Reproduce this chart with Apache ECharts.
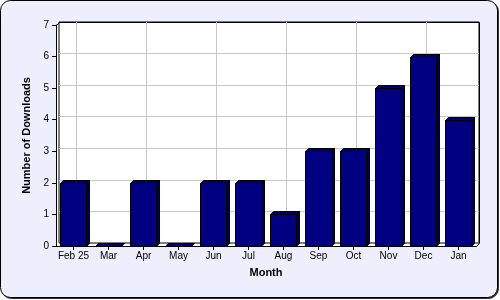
<!DOCTYPE html>
<html><head><meta charset="utf-8">
<script src="https://cdn.jsdelivr.net/npm/echarts@6/dist/echarts.min.js"></script>
<style>html,body{margin:0;padding:0;background:#fff}#c{width:500px;height:300px}</style>
</head><body><div id="c"></div>
<script>
const categories = ['Feb 25','Mar','Apr','May','Jun','Jul','Aug','Sep','Oct','Nov','Dec','Jan'];
const downloads = [2,0,2,0,2,2,1,3,3,5,6,4];
const yTicks = [0,1,2,3,4,5,6,7];

const FONT = '"Liberation Sans", Arial, sans-serif';
const DEPTH = 3;
// front grid layout
const FL = 56, FT = 25, FR = 24, FB = 54;
const W = 500, H = 300;

const chart = echarts.init(document.getElementById('c'), null, {renderer: 'canvas'});

function renderBar(params, api) {
  const cat = api.value(0), val = api.value(1);
  const top = api.coord([cat, val]);
  const base = api.coord([cat, 0]);
  const band = api.size([1, 0])[0];
  const bw = Math.round(band * 0.745);
  const x0 = Math.round(top[0] - bw / 2 - 0.5) + 0.5;
  const x1 = x0 + bw;
  const yt = Math.round(top[1]) + 0.5;
  const yb = Math.round(base[1]) + 0.5;
  const d = DEPTH;
  const stroke = {stroke: '#000', lineWidth: 1};
  return {
    type: 'group',
    children: [
      {type: 'polygon', shape: {points: [[x1, yt], [x1 + d, yt - d], [x1 + d, yb - d], [x1, yb]]},
        style: Object.assign({fill: '#000050'}, stroke)},
      {type: 'polygon', shape: {points: [[x0, yt], [x0 + d, yt - d], [x1 + d, yt - d], [x1, yt]]},
        style: Object.assign({fill: '#000070'}, stroke)},
      {type: 'rect', shape: {x: x0, y: yt, width: bw, height: yb - yt},
        style: Object.assign({fill: '#000080'}, stroke)}
    ]
  };
}

const fx0 = FL + 0.5, fx1 = W - FR + 0.5, fy0 = FT + 0.5, fy1 = H - FB + 0.5;

chart.setOption({
  animation: false,
  backgroundColor: '#ffffff',
  graphic: [
    {type: 'rect', z: -20, silent: true, shape: {x: 1.5, y: 1.5, width: 497, height: 297, r: 10},
      style: {fill: '#333', stroke: '#333', lineWidth: 1}},
    {type: 'rect', z: -19, silent: true, shape: {x: 0.5, y: 0.5, width: 497, height: 297, r: 10},
      style: {fill: '#eeeefd', stroke: '#000', lineWidth: 1}},
    {type: 'polygon', z: -18, silent: true,
      shape: {points: [[fx0, fy1], [fx0, fy0], [fx0 + DEPTH, fy0 - DEPTH], [fx1 + DEPTH, fy0 - DEPTH], [fx1 + DEPTH, fy1 - DEPTH], [fx1, fy1]]},
      style: {fill: '#fff', stroke: '#000', lineWidth: 1}}
  ],
  grid: [
    {left: FL + DEPTH, top: FT - DEPTH, right: FR - DEPTH, bottom: FB + DEPTH, show: true,
      borderColor: '#000', borderWidth: 1, backgroundColor: 'transparent'},
    {left: FL, top: FT, right: FR, bottom: FB}
  ],
  xAxis: [
    {type: 'category', gridIndex: 0, data: categories, boundaryGap: true,
      axisLine: {show: false}, axisTick: {show: false}, axisLabel: {show: false},
      splitLine: {show: true, alignWithLabel: true, lineStyle: {color: '#c8c8c8', width: 1}}},
    {type: 'category', gridIndex: 1, data: categories, boundaryGap: true,
      name: 'Month', nameLocation: 'middle', nameGap: 21,
      nameTextStyle: {fontFamily: FONT, fontSize: 11, fontWeight: 'bold', color: '#000'},
      axisLine: {show: true, lineStyle: {color: '#000', width: 1}},
      axisTick: {show: true, alignWithLabel: true, length: 4, lineStyle: {color: '#000'}},
      axisLabel: {fontFamily: FONT, fontSize: 10, color: '#000', margin: 5, interval: 0},
      splitLine: {show: false}}
  ],
  yAxis: [
    {type: 'value', gridIndex: 0, min: 0, max: 7, interval: 1,
      axisLine: {show: false}, axisTick: {show: false}, axisLabel: {show: false},
      splitLine: {show: true, showMinLine: false, showMaxLine: false, lineStyle: {color: '#c8c8c8', width: 1}}},
    {type: 'value', gridIndex: 1, min: yTicks[0], max: yTicks[yTicks.length - 1], interval: 1,
      name: 'Number of Downloads', nameLocation: 'middle', nameGap: 14,
      nameTextStyle: {fontFamily: FONT, fontSize: 11, fontWeight: 'bold', color: '#000'},
      axisLine: {show: true, lineStyle: {color: '#000', width: 1}},
      axisTick: {show: true, length: 4, lineStyle: {color: '#000'}},
      axisLabel: {fontFamily: FONT, fontSize: 10, color: '#000', margin: 7},
      splitLine: {show: false}}
  ],
  series: [{
    type: 'custom', xAxisIndex: 1, yAxisIndex: 1, clip: false,
    renderItem: renderBar,
    encode: {x: 0, y: 1},
    data: categories.map((c, i) => [i, downloads[i]])
  }]
});
</script></body></html>
